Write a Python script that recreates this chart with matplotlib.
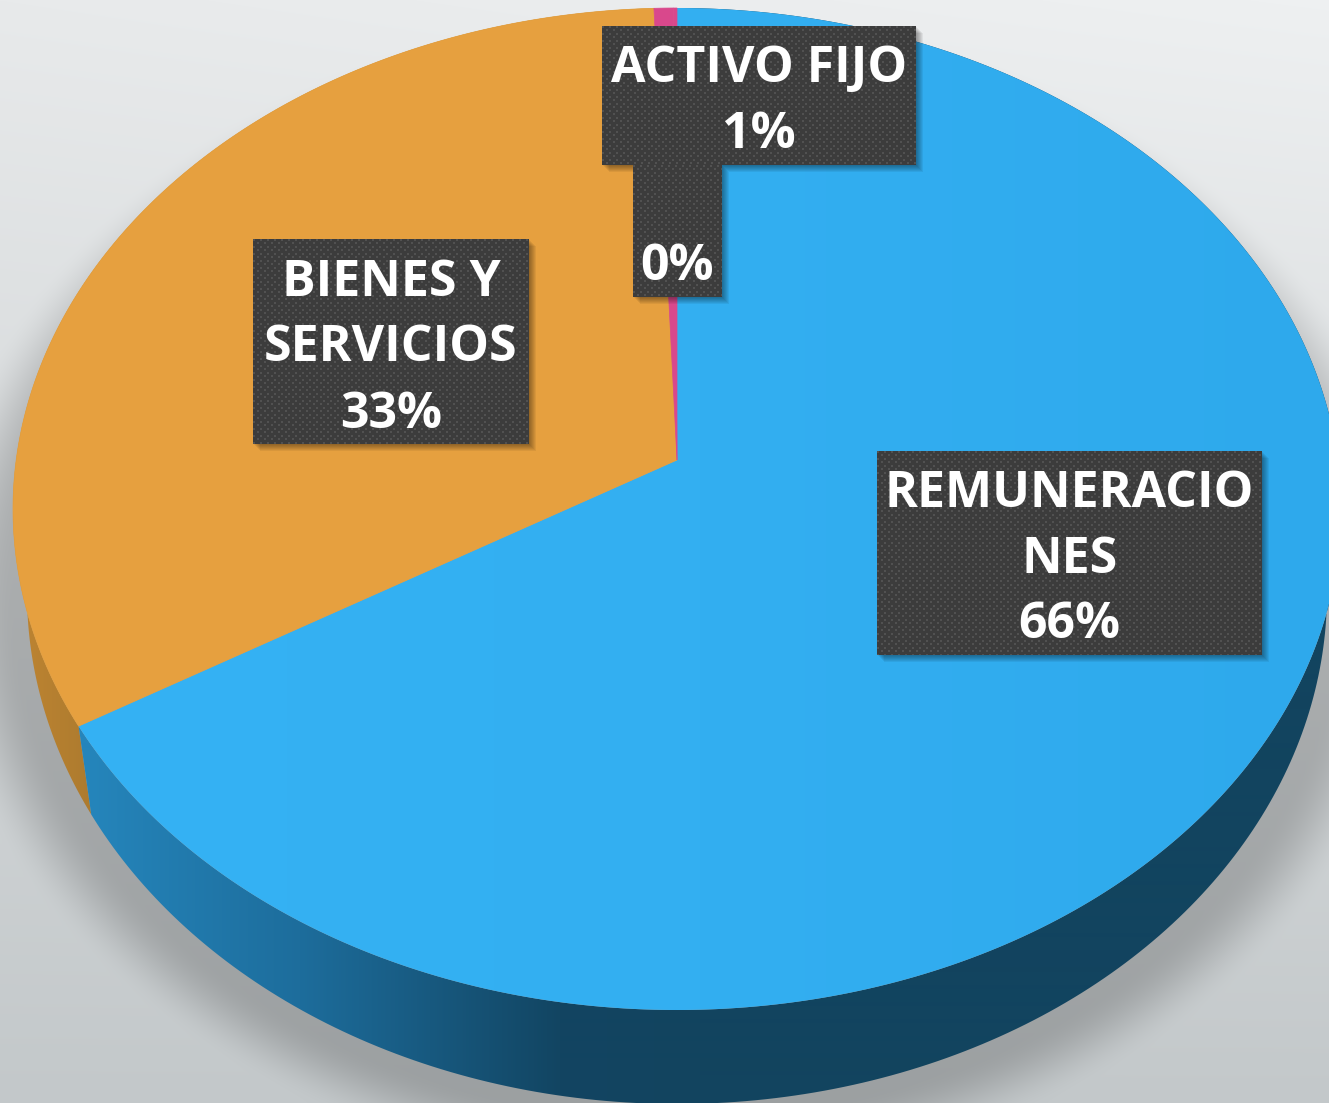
import numpy as np
import matplotlib
matplotlib.use("Agg")
import matplotlib.pyplot as plt
from matplotlib.colors import to_rgb
from matplotlib.patches import Polygon, Rectangle

# datos del grafico
categorias = ["REMUNERACIONES", "BIENES Y SERVICIOS", "ACTIVO FIJO", "OTROS"]
valores = [66.49, 32.9, 0.51, 0.10]
colores_cara = ["#33aef1", "#e6a03f", "#d9488c", "#d9488c"]
nombres_etiqueta = [["REMUNERACIO", "NES"], ["BIENES Y", "SERVICIOS"], ["ACTIVO FIJO"], []]

# cajas de las etiquetas: x0, x1, y0, y1, y centro de cada linea
cajas = [
    (877, 1262, 451, 655, [494, 560, 625]),
    (253, 529, 239, 444, [283, 348, 415]),
    (602, 916, 26, 165, [69, 135]),
    (633, 722, 165, 297, [267]),
]

W, H = 1329, 1103
fig = plt.figure(figsize=(W / 100, H / 100), dpi=100)
ax = fig.add_axes([0, 0, 1, 1])
ax.axis("off")

# geometria del pastel en perspectiva
CX = 677
TOP_CY, TOP_RX, TOP_RY = 509, 664, 501
BOT_CY, BOT_RX, BOT_RY = 593, 650, 511
A = (TOP_CY - 460) / TOP_RY


def disco(t):
    t = np.radians(t)
    u, v = np.sin(t), -np.cos(t)
    d = 1 - A * v
    return u * np.sqrt(1 - A ** 2) / d, (v - A) / d


def borde_sup(t):
    u, v = disco(t)
    return CX + TOP_RX * u, TOP_CY + TOP_RY * v


def borde_inf(t):
    u, v = disco(t)
    return CX + BOT_RX * u, BOT_CY + BOT_RY * v


# fondo con degradado y sombra del pastel
yy, xx = np.mgrid[0:H, 0:W]
f = yy / H
arriba = np.array(to_rgb("#e8eaeb"))
abajo = np.array(to_rgb("#c3c8ca"))
fondo = arriba[None, None, :] * (1 - f[..., None]) + abajo[None, None, :] * f[..., None]
fondo = fondo + (xx / W)[..., None] * 0.025 * (1 - f[..., None])
r = np.sqrt(((xx - CX) / BOT_RX) ** 2 + ((yy - BOT_CY) / BOT_RY) ** 2)
s = np.clip((1.15 - r) / 0.13, 0, 1)
sombra = s * s * (3 - 2 * s) * 0.2
fondo = np.clip(fondo * (1 - sombra[..., None]), 0, 1)
ax.imshow(fondo, extent=(0, W, H, 0), aspect="auto", zorder=0)


def relleno_degradado(xs, ys, x_col, col, z):
    # poligono recortando una imagen de degradado horizontal
    grad = np.zeros((1, W, 3))
    for i in range(3):
        grad[0, :, i] = np.interp(np.arange(W), x_col, [to_rgb(c)[i] for c in col])
    im = ax.imshow(grad, extent=(0, W, H, 0), aspect="auto", zorder=z, interpolation="bilinear")
    pol = Polygon(np.column_stack([xs, ys]), closed=True, transform=ax.transData, fc="none", ec="none")
    ax.add_patch(pol)
    im.set_clip_path(pol)


# angulos desde los valores, en sentido horario desde arriba
fin = np.cumsum(valores) / np.sum(valores) * 360
ini = np.concatenate([[0], fin[:-1]])

# paredes laterales
for k in [1, 0]:
    t = np.linspace(ini[k], fin[k], 300)
    xt, yt = borde_sup(t)
    xb, yb = borde_inf(t)
    xs = np.concatenate([xt, xb[::-1]])
    ys = np.concatenate([yt, yb[::-1]])
    if k == 0:
        relleno_degradado(xs, ys, [90, 300, 560, 700], ["#2585bb", "#1d6d9c", "#124562", "#12445f"], 2 + k)
    else:
        relleno_degradado(xs, ys, [20, 100], ["#bd8432", "#ab7a2e"], 2)

# cara superior
for k in range(len(valores)):
    t = np.linspace(ini[k], fin[k], 400)
    xt, yt = borde_sup(t)
    xs = np.concatenate([[CX], xt])
    ys = np.concatenate([[460], yt])
    if k == 0:
        relleno_degradado(xs, ys, [80, 700, 1329], ["#35b2f4", "#33aff1", "#2ea9ec"], 4)
    else:
        ax.fill(xs, ys, color=colores_cara[k], lw=0.5, zorder=4)

# etiquetas
azulejo = np.full((7, 7), 0x3d) / 255
azulejo[0:2, 0:2] = 0x52 / 255
azulejo[3:5, 4:6] = 0x52 / 255

for i, (x0, x1, y0, y1, lineas) in enumerate(cajas):
    # sombra difusa de la caja
    for d in range(1, 8):
        ax.add_patch(Rectangle((x0 + d, y0 + d), x1 - x0, y1 - y0, fc="black", ec="none", alpha=0.06, zorder=5))
for i, (x0, x1, y0, y1, lineas) in enumerate(cajas):
    h = int(y1 - y0)
    w = int(x1 - x0)
    patron = np.tile(azulejo, (h // 7 + 1, w // 7 + 1))[:h, :w]
    ax.imshow(patron, extent=(x0, x1, y1, y0), aspect="auto", cmap="gray", vmin=0, vmax=1, zorder=6, interpolation="nearest")
    textos = nombres_etiqueta[i] + ["%d%%" % round(valores[i])]
    for txt, yc in zip(textos, lineas):
        ax.text((x0 + x1) / 2, yc, txt, color="white", fontsize=36, family="Open Sans", weight="bold",
                ha="center", va="center", zorder=7)

ax.set_xlim(0, W)
ax.set_ylim(H, 0)
fig.savefig("out.png", dpi=100)
